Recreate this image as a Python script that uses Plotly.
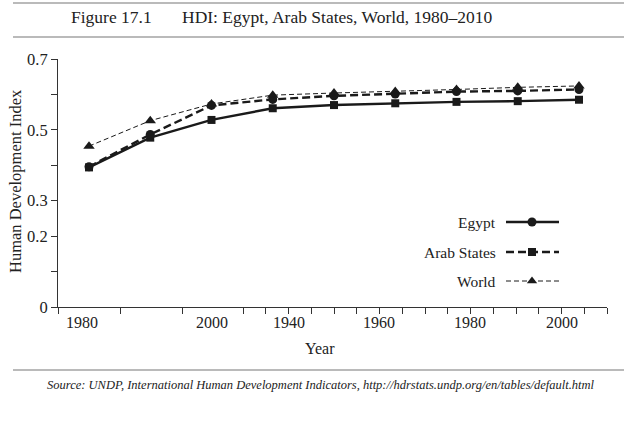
import plotly.graph_objects as go

# ---- data ----
periods = ["1980", "1990", "2000", "2005", "2006", "2007", "2008", "2009", "2010"]
egypt = [0.396, 0.487, 0.569, 0.586, 0.596, 0.601, 0.608, 0.610, 0.614]
arab_states = [0.394, 0.478, 0.528, 0.561, 0.570, 0.575, 0.579, 0.581, 0.585]
world = [0.454, 0.526, 0.573, 0.598, 0.604, 0.608, 0.614, 0.620, 0.624]
y_tick_vals = [0, 0.1, 0.2, 0.3, 0.4, 0.5, 0.6, 0.7]
y_tick_text = ["0", "", "0.2", "0.3", "", "0.5", "", "0.7"]
x_tick_labels = ["1980", "2000", "1940", "1960", "1980", "2000"]

FONT = "Liberation Serif"
PL, PR, PT, PB = 58, 607, 59, 307
W, H = 624, 428


def px(x):
    return (x - PL) / (PR - PL)


def py(y):
    return (PB - y) / (PB - PT)


idx = list(range(len(periods)))
fig = go.Figure()

fig.add_trace(go.Scatter(x=idx, y=arab_states, mode="lines+markers", name="Arab States",
                         line=dict(color="#1a1a1a", width=2.4),
                         marker=dict(symbol="square", size=8, color="#1a1a1a"),
                         text=periods, showlegend=False, cliponaxis=False))
fig.add_trace(go.Scatter(x=idx, y=egypt, mode="lines+markers", name="Egypt",
                         line=dict(color="#1a1a1a", width=2.4, dash="8px,4px"),
                         marker=dict(symbol="circle", size=9, color="#1a1a1a"),
                         text=periods, showlegend=False, cliponaxis=False))
fig.add_trace(go.Scatter(x=idx, y=world, mode="lines+markers", name="World",
                         line=dict(color="#1a1a1a", width=1, dash="5px,3px"),
                         marker=dict(symbol="triangle-up", size=10, color="#1a1a1a"),
                         text=periods, showlegend=False, cliponaxis=False))

# legend samples drawn on an overlay axis measured in page pixels
leg_names = ["Egypt", "Arab States", "World"]
leg_y = [222, 252, 281]
leg_dash = ["solid", "8px,4px", "5px,3px"]
leg_width = [2.4, 2.4, 1]
leg_sym = ["circle", "square", "triangle-up"]
leg_size = [9, 8, 9]
for n, yy, d, w, s, sz in zip(leg_names, leg_y, leg_dash, leg_width, leg_sym, leg_size):
    fig.add_trace(go.Scatter(x=[506, 559], y=[yy, yy], mode="lines", xaxis="x2", yaxis="y2",
                             line=dict(color="#1a1a1a", width=w, dash=d),
                             showlegend=False, hoverinfo="skip", cliponaxis=False))
    fig.add_trace(go.Scatter(x=[532], y=[yy], mode="markers", xaxis="x2", yaxis="y2",
                             marker=dict(symbol=s, size=sz, color="#1a1a1a"),
                             showlegend=False, hoverinfo="skip", cliponaxis=False))

annotations = []
for n, yy in zip(leg_names, leg_y):
    annotations.append(dict(text=n, x=px(498), y=py(yy), xref="paper", yref="paper",
                            xanchor="right", yanchor="middle", showarrow=False,
                            font=dict(family=FONT, size=15.5, color="#222")))

# x tick labels
x_label_px = [82, 212, 288.5, 379.5, 470.5, 561.5]
for t, xx in zip(x_tick_labels, x_label_px):
    annotations.append(dict(text=t, x=px(xx), y=py(312), xref="paper", yref="paper",
                            xanchor="center", yanchor="top", showarrow=False,
                            font=dict(family=FONT, size=16, color="#222")))

annotations.append(dict(text="Year", x=px(320), y=py(348), xref="paper", yref="paper",
                        xanchor="center", yanchor="middle", showarrow=False,
                        font=dict(family=FONT, size=16, color="#222")))
annotations.append(dict(text="Human Development Index", x=px(15), y=py(181), xref="paper", yref="paper",
                        xanchor="center", yanchor="middle", showarrow=False, textangle=-90,
                        font=dict(family=FONT, size=16.5, color="#222")))
annotations.append(dict(text="Figure 17.1", x=px(69), y=py(17), xref="paper", yref="paper",
                        xanchor="left", yanchor="middle", showarrow=False,
                        font=dict(family=FONT, size=17.5, color="#222")))
annotations.append(dict(text="HDI: Egypt, Arab States, World, 1980\u20132010", x=px(180), y=py(17),
                        xref="paper", yref="paper", xanchor="left", yanchor="middle", showarrow=False,
                        font=dict(family=FONT, size=17.5, color="#222")))
annotations.append(dict(text="<i>Source: UNDP, International Human Development Indicators, "
                             "http://hdrstats.undp.org/en/tables/default.html</i>",
                        x=px(321), y=py(385), xref="paper", yref="paper",
                        xanchor="center", yanchor="middle", showarrow=False,
                        font=dict(family=FONT, size=12.5, color="#222")))

shapes = [
    dict(type="line", xref="paper", yref="paper", x0=px(13), x1=px(624), y0=py(3), y1=py(3),
         line=dict(color="#777", width=1.2)),
    dict(type="line", xref="paper", yref="paper", x0=px(13), x1=px(624), y0=py(37), y1=py(37),
         line=dict(color="#777", width=1.2)),
    dict(type="line", xref="paper", yref="paper", x0=px(13), x1=px(624), y0=py(370), y1=py(370),
         line=dict(color="#777", width=1.2)),
]

# x ticks (page pixel positions on overlay axis)
x_ticks_px = [58, 120, 182, 243] + [243 + 22.75 * k for k in range(1, 17)]

fig.update_layout(
    width=W, height=H,
    margin=dict(l=PL, r=W - PR, t=PT, b=H - PB, pad=0),
    paper_bgcolor="white", plot_bgcolor="white",
    font=dict(family=FONT, size=16, color="#222"),
    xaxis=dict(range=[(PL - 89) / 61.25, (PR - 89) / 61.25], visible=False, fixedrange=True),
    yaxis=dict(range=[0, 0.7], tickvals=y_tick_vals, ticktext=y_tick_text,
               ticks="outside", ticklen=6, tickcolor="#333", tickwidth=1,
               showline=True, linecolor="#333", linewidth=1, showgrid=False, zeroline=False,
               tickfont=dict(family=FONT, size=16.5, color="#222")),
    xaxis2=dict(range=[PL, PR], overlaying="x", anchor="y2", side="bottom",
                tickvals=x_ticks_px, ticktext=[""] * len(x_ticks_px),
                ticks="outside", ticklen=6, tickcolor="#333", tickwidth=1,
                showline=True, linecolor="#333", linewidth=1, showgrid=False, zeroline=False),
    yaxis2=dict(range=[PB, PT], overlaying="y", anchor="x2", visible=False),
    annotations=annotations,
    shapes=shapes,
    showlegend=False,
)

fig.write_html("out.html", config={"displayModeBar": False},
               post_script="document.body.style.margin='0';")
